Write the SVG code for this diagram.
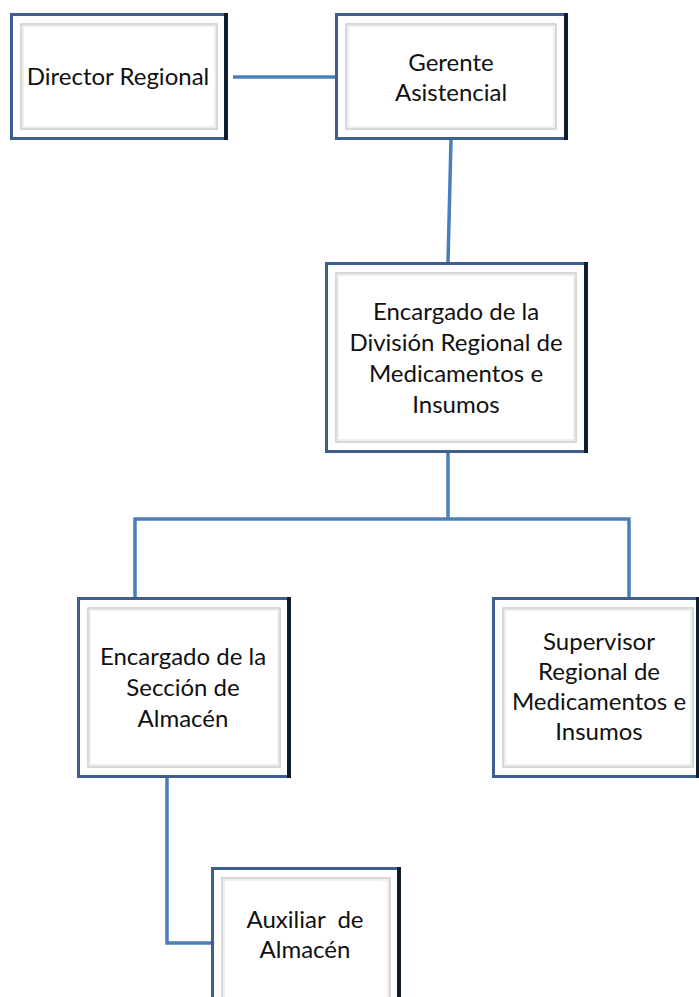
<svg xmlns="http://www.w3.org/2000/svg" width="699" height="997" viewBox="0 0 699 997">
<defs>
<style>
.outer{fill:#3d5f8d}
.dark{fill:#0f1c2c}
.white{fill:#ffffff}
.bevel{fill:#ffffff;stroke:#cbcbcb;stroke-width:1.5}
.bevel2{fill:none;stroke:#eeeeee;stroke-width:2}
.lbl{font-family:Lato,"Open Sans","Liberation Sans",sans-serif;font-size:24px;fill:#111;text-anchor:middle}
.conn{fill:none;stroke:#4a7ebb;stroke-width:3.5}
</style>
</defs>
<rect width="699" height="997" fill="#ffffff"/>
<g id="connectors">
<line class="conn" x1="233" y1="77" x2="336" y2="77"/>
<line class="conn" x1="451" y1="139" x2="448" y2="263"/>
<line class="conn" x1="448" y1="452" x2="448" y2="519"/>
<polyline class="conn" points="135,598 135,519 629,519 629,598"/>
<polyline class="conn" points="167,777 167,943 213,943"/>
</g>
<g id="director">
<rect class="outer" x="10" y="13" width="218" height="127"/>
<rect class="dark" x="224" y="13" width="4" height="127"/>
<rect class="white" x="13" y="16" width="211" height="121"/>
<rect class="bevel" x="21" y="24" width="196" height="105"/>
<rect class="bevel2" x="23" y="26" width="192" height="101"/>
<text class="lbl" x="118" y="85">Director Regional</text>
</g>
<g id="gerente">
<rect class="outer" x="335" y="13" width="233" height="127"/>
<rect class="dark" x="564" y="13" width="4" height="127"/>
<rect class="white" x="338" y="16" width="226" height="121"/>
<rect class="bevel" x="346" y="24" width="210" height="105"/>
<rect class="bevel2" x="348" y="26" width="206" height="101"/>
<text class="lbl" x="451" y="71">Gerente</text>
<text class="lbl" x="451" y="101">Asistencial</text>
</g>
<g id="encargado-division">
<rect class="outer" x="325" y="262" width="263" height="191"/>
<rect class="dark" x="584" y="262" width="4" height="191"/>
<rect class="white" x="328" y="265" width="256" height="185"/>
<rect class="bevel" x="336" y="273" width="240" height="169"/>
<rect class="bevel2" x="338" y="275" width="236" height="165"/>
<text class="lbl" x="456" y="320">Encargado de la</text>
<text class="lbl" x="456" y="351">División Regional de</text>
<text class="lbl" x="456" y="382">Medicamentos e</text>
<text class="lbl" x="456" y="413">Insumos</text>
</g>
<g id="encargado-seccion">
<rect class="outer" x="77" y="597" width="214" height="181"/>
<rect class="dark" x="287" y="597" width="4" height="181"/>
<rect class="white" x="80" y="600" width="207" height="175"/>
<rect class="bevel" x="88" y="608" width="192" height="159"/>
<rect class="bevel2" x="90" y="610" width="188" height="155"/>
<text class="lbl" x="183" y="665">Encargado de la</text>
<text class="lbl" x="183" y="696">Sección de</text>
<text class="lbl" x="183" y="727">Almacén</text>
</g>
<g id="supervisor">
<rect class="outer" x="492" y="597" width="210" height="181"/>
<rect class="dark" x="696" y="597" width="6" height="181"/>
<rect class="white" x="495" y="600" width="201" height="175"/>
<rect class="bevel" x="503" y="608" width="190" height="159"/>
<rect class="bevel2" x="505" y="610" width="186" height="155"/>
<text class="lbl" x="599" y="650">Supervisor</text>
<text class="lbl" x="599" y="680">Regional de</text>
<text class="lbl" x="599" y="710">Medicamentos e</text>
<text class="lbl" x="599" y="740">Insumos</text>
</g>
<g id="auxiliar">
<rect class="outer" x="211" y="867" width="190" height="140"/>
<rect class="dark" x="397" y="867" width="4" height="140"/>
<rect class="white" x="214" y="870" width="183" height="140"/>
<rect class="bevel" x="222" y="878" width="168" height="130"/>
<rect class="bevel2" x="224" y="880" width="164" height="130"/>
<text class="lbl" x="305" y="928" xml:space="preserve">Auxiliar  de</text>
<text class="lbl" x="305" y="958">Almacén</text>
</g>
</svg>
